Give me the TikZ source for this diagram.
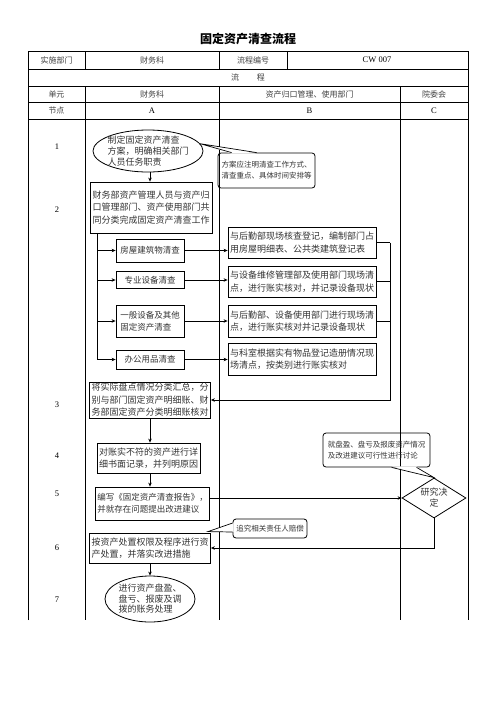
\documentclass[tikz,border=0pt]{standalone}
\usepackage{fontspec}
\setmainfont{Liberation Serif}
\newfontfamily\cjk{Noto Sans CJK SC}
\usetikzlibrary{shapes,arrows.meta,positioning,calc}

\begin{document}
\begin{tikzpicture}[
      x=1pt, y=-1pt,
      grid/.style={line width=0.8pt},
      cell/.style={font=\cjk\fontsize{8}{10}\selectfont, text=black!75},
      latin/.style={font=\fontsize{8.5}{10}\selectfont},
      task/.style={rectangle, draw, line width=0.8pt, inner xsep=2pt, inner ysep=1pt, align=left, font=\cjk\fontsize{9}{12.5}\selectfont, text=black!80},
      subtask/.style={task, font=\cjk\fontsize{8.5}{12}\selectfont},
      oval/.style={ellipse, draw, line width=0.8pt},
      ovaltext/.style={align=left, inner sep=0pt, font=\cjk\fontsize{9}{11}\selectfont, text=black!80},
      note/.style={rectangle, draw, rounded corners=3pt, line width=0.8pt, inner xsep=2pt, align=left, font=\cjk\fontsize{7.5}{11}\selectfont, text=black!80},
      decide/.style={diamond, draw, line width=0.8pt, aspect=1.6, inner sep=0pt, align=center, font=\cjk\fontsize{9}{11}\selectfont, text=black!80},
      arrow/.style={-{Stealth[length=4pt, width=3.5pt]}, line width=0.7pt},
      link/.style={line width=0.7pt}
    ]
      \useasboundingbox (0,0) rectangle (496,702);

      % Title
      \node[font=\cjk\bfseries\fontsize{12}{14}\selectfont] (title) at (248,39) {固定资产清查流程};

      % Table grid
      \draw[grid] (28,620) -- (28,51) -- (468,51) -- (468,620);
      \foreach \y in {69,86,102,119}
        \draw[grid] (28,\y) -- (468,\y);
      \foreach \x in {85,219}
        \draw[grid] (\x,51) -- (\x,69) (\x,86) -- (\x,620);
      \draw[grid] (287,51) -- (287,69);
      \draw[grid] (400,86) -- (400,620);

      % Table header
      \node[cell] (dept) at (56.5,60) {实施部门};
      \node[cell] (deptA) at (152,60) {财务科};
      \node[cell] (code) at (253,60) {流程编号};
      \node[latin] (codeval) at (377,60) {CW 007};
      \node[cell] (flow) at (248,77.5) {流\hspace{2.2em}程};
      \node[cell] (unit) at (56.5,94) {单元};
      \node[cell] (unitA) at (152,94) {财务科};
      \node[cell] (unitB) at (309.5,94) {资产归口管理、使用部门};
      \node[cell] (unitC) at (434,94) {院委会};
      \node[cell] (step) at (56.5,110.5) {节点};
      \node[latin] (colA) at (152,110.5) {A};
      \node[latin] (colB) at (309.5,110.5) {B};
      \node[latin] (colC) at (434,110.5) {C};

      % Step numbers
      \foreach \n/\y in {1/147,2/210,3/405,4/456,5/494,6/548,7/600}
        \node[latin] (num\n) at (57,\y) {\n};

      % Column A
      \node[oval, minimum width=110pt, minimum height=42pt] (ell1) at (148,151) {};
      \node[ovaltext] (ell1txt) at (ell1) {制定固定资产清查\\方案，明确相关部门\\人员任务职责};
      \node[task, minimum width=122pt, minimum height=51pt] (box2) at (151,207.5)
        {财务部资产管理人员与资产归\\口管理部门、资产使用部门共\\同分类完成固定资产清查工作};
      \node[subtask, minimum width=68pt, minimum height=23pt] (sub1) at (150,250.5) {房屋建筑物清查};
      \node[subtask, minimum width=68pt, minimum height=17pt] (sub2) at (150,280) {专业设备清查};
      \node[subtask, minimum width=68pt, minimum height=32pt] (sub3) at (150,321) {一般设备及其他\\固定资产清查};
      \node[subtask, minimum width=68pt, minimum height=19pt] (sub4) at (150,359.5) {办公用品清查};
      \node[task, minimum width=120pt, minimum height=36pt] (sum) at (150,400)
        {将实际盘点情况分类汇总，分\\别与部门固定资产明细账、财\\务部固定资产分类明细账核对};
      \node[task, minimum width=103pt, minimum height=30pt] (rec) at (148.5,458)
        {对账实不符的资产进行详\\细书面记录，并列明原因};
      \node[task, font=\cjk\fontsize{8.5}{12.5}\selectfont, minimum width=111pt, minimum height=33pt] (rpt) at (152.5,503.5)
        {编写《固定资产清查报告》，\\并就存在问题提出改进建议};
      \node[task, minimum width=120pt, minimum height=30pt] (disp) at (150,548)
        {按资产处置权限及程序进行资\\产处置，并落实改进措施};
      \node[oval, minimum width=90pt, minimum height=46pt] (ell7) at (150,599) {};
      \node[ovaltext, font=\cjk\fontsize{9}{10.5}\selectfont] (ell7txt) at (ell7) {进行资产盘盈、\\盘亏、报废及调\\拨的账务处理};

      % Column B
      \node[task, minimum width=148pt, minimum height=31pt] (chk1) at (302,242.5)
        {与后勤部现场核查登记，编制部门占\\用房屋明细表、公共类建筑登记表};
      \node[task, minimum width=148pt, minimum height=31pt] (chk2) at (302,281.5)
        {与设备维修管理部及使用部门现场清\\点，进行账实核对，并记录设备现状};
      \node[task, minimum width=148pt, minimum height=32pt] (chk3) at (302,321)
        {与后勤部、设备使用部门进行现场清\\点，进行账实核对并记录设备现状};
      \node[task, minimum width=148pt, minimum height=32pt] (chk4) at (302,359)
        {与科室根据实有物品登记造册情况现\\场清点，按类别进行账实核对};

      % Column C
      \node[decide, minimum width=64pt, minimum height=40pt] (dia) at (434,498) {研究决\\定};

      % Notes
      \node[note, minimum width=97pt, minimum height=35pt] (note1) at (266.5,170.5)
        {方案应注明清查工作方式、\\清查重点、具体时间安排等};
      \node[note, minimum width=107pt, minimum height=34pt] (note2) at (376.5,450)
        {就盘盈、盘亏及报废资产情况\\及改进建议可行性进行讨论};
      \node[note, minimum width=74pt, minimum height=19pt] (note3) at (270,528.5) {追究相关责任人赔偿};

      % Note pointers
      \fill[white] ($(note1.north west)+(14,1)$) -- (ell1.8) -- ($(note1.north west)+(39,1)$) -- cycle;
      \draw[link] ($(note1.north west)+(14,0)$) -- (ell1.8) -- ($(note1.north west)+(39,0)$);
      \fill[white] ($(note2.south west)+(69,-1)$) -- (dia.north) -- ($(note2.south west)+(94,-1)$) -- cycle;
      \draw[link] ($(note2.south west)+(69,0)$) -- (dia.north) -- ($(note2.south west)+(94,0)$);
      \coordinate (tip3) at ($(disp.north east)+(-3,-1)$);
      \fill[white] ($(note3.west)+(1,-5.5)$) -- (tip3) -- ($(note3.west)+(1,3.5)$) -- cycle;
      \draw[link] ($(note3.west)+(0,-5.5)$) -- (tip3) -- ($(note3.west)+(0,3.5)$);

      % Arrows column A
      \draw[arrow] (ell1.south -| 150,0) -- (box2.north -| 150,0);
      \coordinate (trunk) at ($(box2.south west)+(8,0)$);
      \draw[arrow] (trunk) |- (sub4.west);
      \draw[arrow] (trunk |- sub1) -- (sub1.west);
      \draw[arrow] (trunk |- sub2) -- (sub2.west);
      \draw[arrow] (trunk |- sub3) -- (sub3.west);

      % Arrows to column B
      \draw[arrow] (sub1.east) -- (sub1.east -| chk1.west);
      \draw[arrow] (sub2.east) -- (sub2.east -| chk2.west);
      \draw[arrow] (sub3.east) -- (sub3.east -| chk3.west);
      \draw[arrow] (sub4.east) -- (sub4.east -| chk4.west);

      % Collect results
      \coordinate (join) at (390,242.5);
      \draw[link] (chk1.east) -- (join);
      \draw[link] (chk2.east) -- (chk2.east -| join);
      \draw[link] (chk3.east) -- (chk3.east -| join);
      \draw[arrow] (join) -- (join |- sum) -- (sum.east);

      % Report and decision
      \draw[arrow] (sum.south) -- (sum.south |- rec.north);
      \draw[arrow] (rec.south -| sum.south) -- (rpt.north -| sum.south);
      \draw[arrow] (dia.west -| rpt.east) -- (dia.west);
      \draw[arrow] (dia.south) |- (disp.east);
      \draw[arrow] (disp.south) -- (ell7.north);

    \end{tikzpicture}
\end{document}
